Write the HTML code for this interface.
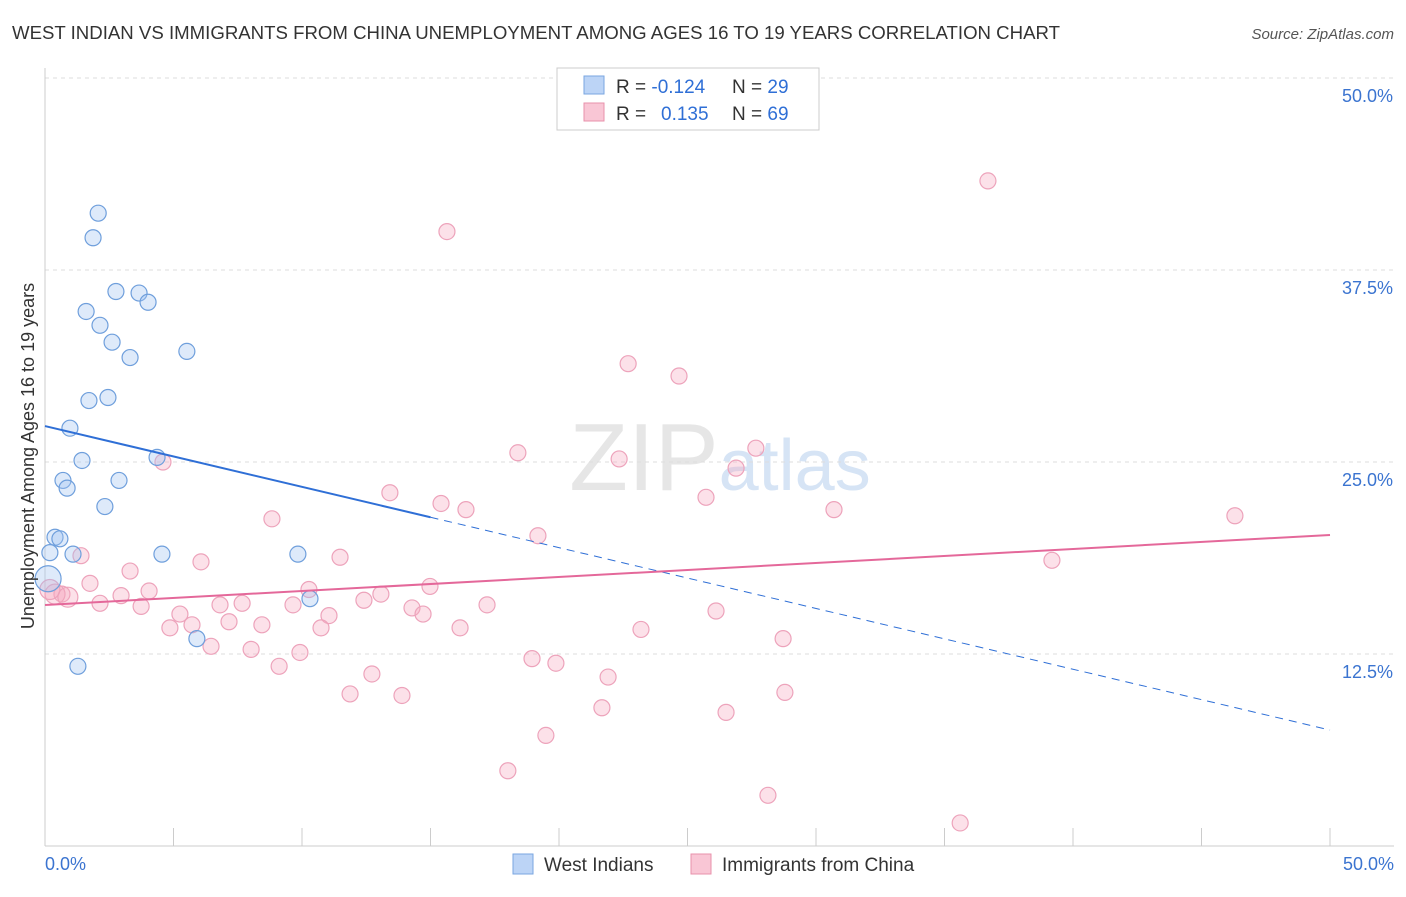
<!DOCTYPE html>
<html><head><meta charset="utf-8"><style>
body{margin:0;background:#fff;font-family:"Liberation Sans",sans-serif;}
svg text{font-family:"Liberation Sans",sans-serif;}
</style></head><body>
<svg id="c" width="1406" height="892">
<text x="12" y="39" font-size="18" textLength="1048" lengthAdjust="spacingAndGlyphs" fill="#333">WEST INDIAN VS IMMIGRANTS FROM CHINA UNEMPLOYMENT AMONG AGES 16 TO 19 YEARS CORRELATION CHART</text>
<text x="1394" y="39" font-size="15" fill="#555" text-anchor="end" font-style="italic">Source: ZipAtlas.com</text>
<text x="720" y="490" font-size="96" fill="#e6e6e6" text-anchor="middle" font-family="Liberation Serif">ZIP<tspan fill="#d6e4f5" font-family="Liberation Sans" font-size="72">atlas</tspan></text>
<g id="grid"></g><g id="marks"></g>
<text transform="translate(34,456) rotate(-90)" font-size="18" fill="#333" text-anchor="middle">Unemployment Among Ages 16 to 19 years</text>
<g>
<rect x="557" y="68" width="262" height="62" fill="#fff" stroke="#ccc"/>
<rect x="584" y="76" width="20" height="18" fill="#bcd4f6" stroke="#7aa6e0"/>
<rect x="584" y="103" width="20" height="18" fill="#f9c6d5" stroke="#e891ab"/>
<text x="616" y="93" font-size="19" fill="#333">R = <tspan fill="#2f6fd6">-0.124</tspan><tspan x="732">N = </tspan><tspan fill="#2f6fd6">29</tspan></text>
<text x="616" y="120" font-size="19" fill="#333">R = <tspan x="661" fill="#2f6fd6">0.135</tspan><tspan x="732">N = </tspan><tspan fill="#2f6fd6">69</tspan></text>
</g>
<g>
<rect x="513" y="854" width="20" height="20" fill="#bcd4f6" stroke="#7aa6e0"/>
<text x="544" y="871" font-size="19" fill="#333">West Indians</text>
<rect x="691" y="854" width="20" height="20" fill="#f9c6d5" stroke="#e891ab"/>
<text x="722" y="871" font-size="19" fill="#333">Immigrants from China</text>
</g>
</svg>
<script>
const yTicks=[12.5,25,37.5,50];
const yTickLabels=["12.5%","25.0%","37.5%","50.0%"];
const blueX=[2.07,1.87,2.76,3.66,4.01,1.60,2.14,2.61,3.31,5.52,1.71,2.45,0.97,1.44,4.36,0.70,0.86,2.88,2.33,0.39,0.58,0.19,1.09,4.55,9.84,10.31,5.91,1.28,0.12];
const blueY=[41.2,39.6,36.1,36.0,35.4,34.8,33.9,32.8,31.8,32.2,29.0,29.2,27.2,25.1,25.3,23.8,23.3,23.8,22.1,20.1,20.0,19.1,19.0,19.0,19.0,16.1,13.5,11.7,17.4];
const pinkX=[36.69,15.64,22.69,24.67,18.40,27.66,22.34,26.89,4.59,13.42,25.72,15.41,16.38,30.70,46.30,8.83,19.18,39.18,1.40,6.07,11.48,3.31,1.75,4.05,10.27,14.98,2.96,0.66,2.14,3.74,6.81,7.67,9.65,12.41,13.07,14.28,14.71,17.20,26.11,5.25,11.05,7.16,8.44,4.86,5.72,10.74,16.15,23.19,28.72,6.46,8.02,9.92,18.95,19.88,9.11,12.72,21.91,11.87,13.89,28.79,21.67,26.50,19.49,18.01,28.13,35.61,0.39,0.89,0.19];
const pinkY=[43.3,40.0,31.4,30.6,25.6,25.9,25.2,24.6,25.0,23.0,22.7,22.3,21.9,21.9,21.5,21.3,20.2,18.6,18.9,18.5,18.8,17.9,17.1,16.6,16.7,16.9,16.3,16.4,15.8,15.6,15.7,15.8,15.7,16.0,16.4,15.5,15.1,15.7,15.3,15.1,15.0,14.6,14.4,14.2,14.4,14.2,14.2,14.1,13.5,13.0,12.8,12.6,12.2,11.9,11.7,11.2,11.0,9.9,9.8,10.0,9.0,8.7,7.2,4.9,3.3,1.5,16.4,16.2,16.7];
const blueLine=[27.34,7.55], pinkLine=[15.69,20.25];
const X=v=>45+v/50*1285, Y=v=>846-v/50*768;
const NS="http://www.w3.org/2000/svg";
const grid=document.getElementById('grid'), marks=document.getElementById('marks');
function mk(p,tag,a){const e=document.createElementNS(NS,tag);for(const k in a)e.setAttribute(k,a[k]);p.appendChild(e);return e;}
yTicks.forEach((t,i)=>{
 const l=mk(grid,'line',{x1:45,x2:1394,y1:Y(t),y2:Y(t),stroke:'#ddd','stroke-dasharray':'4,4'});
 
 
 const tx=mk(grid,'text',{x:1393,y:Y(t)+24,'font-size':18,fill:'#3b74d0','text-anchor':'end'});tx.textContent=yTickLabels[i];
 
 
});
mk(grid,'line',{x1:45,x2:45,y1:68,y2:846,stroke:'#ccc'});
mk(grid,'line',{x1:45,x2:1394,y1:846,y2:846,stroke:'#ccc'});
for(let i=0;i<=10;i++){mk(grid,'line',{x1:X(i*5),x2:X(i*5),y1:828,y2:846,stroke:'#ccc'});}
const x0=mk(grid,'text',{x:45,y:870,'font-size':18,fill:'#3b74d0'});x0.textContent='0.0%';


const x1=mk(grid,'text',{x:1394,y:870,'font-size':18,fill:'#3b74d0','text-anchor':'end'});x1.textContent='50.0%';


pinkX.forEach((v,i)=>{const c=mk(marks,'circle',{cx:X(v),cy:Y(pinkY[i]),r:i>=66?10:8,fill:'rgba(245,168,192,0.35)',stroke:'#eda3bb','stroke-width':1.2});
 
 });
blueX.forEach((v,i)=>{const c=mk(marks,'circle',{cx:X(v),cy:Y(blueY[i]),r:i==28?13:8,fill:'rgba(160,195,240,0.35)',stroke:'#6f9fdc','stroke-width':1.2});
 
 });
const by=x=>blueLine[0]+(blueLine[1]-blueLine[0])*x/50;
const bl=mk(marks,'line',{x1:X(0),y1:Y(by(0)),x2:X(15),y2:Y(by(15)),stroke:'#2f6fd6','stroke-width':2});


const bd=mk(marks,'line',{x1:X(15),y1:Y(by(15)),x2:X(50),y2:Y(by(50)),stroke:'#2f6fd6','stroke-width':1,'stroke-dasharray':'8,6'});


const pl=mk(marks,'line',{x1:X(0),y1:Y(pinkLine[0]),x2:X(50),y2:Y(pinkLine[1]),stroke:'#e4689a','stroke-width':2});


</script>
</body></html>
